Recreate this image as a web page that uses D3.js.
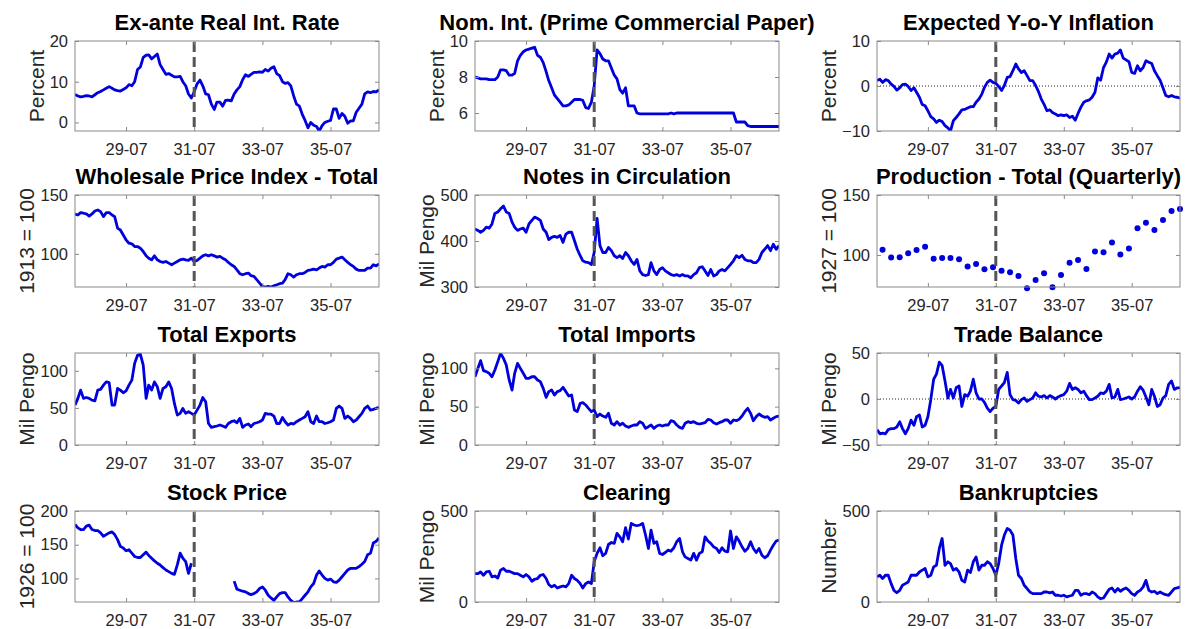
<!DOCTYPE html>
<html>
<head>
<meta charset="utf-8">
<script src="https://cdn.jsdelivr.net/npm/d3@7"></script>
<style>
  body { margin: 0; background: #fff; }
  svg text { font-family: "Liberation Sans", Arial, sans-serif; }
</style>
</head>
<body>
<svg id="chart" width="1188" height="629"></svg>
<script>
// monthly series, 1928-01 .. 1936-12
var realRate = [6.9,6.5,6.3,6.4,6.6,6.5,6.3,6.8,7.3,7.6, 8.0,8.4,8.8,8.4,8.0,7.8,7.7,8.1,8.5,9.3,
  9.0,10.0,13.0,13.6,16.0,16.5,16.6,15.6,16.2,16.8, 14.2,13.0,11.8,12.0,11.6,11.2,11.2,11.3,10.0,9.0,
  7.0,6.0,7.5,9.5,10.4,9.0,7.0,6.8,4.5,3.2, 5.0,5.0,4.0,5.4,5.5,5.3,7.0,8.0,8.8,10.5,
  11.7,11.3,11.8,12.3,12.3,12.4,12.3,13.0,12.6,13.3, 13.7,12.0,11.5,10.0,9.6,9.8,9.0,6.5,4.5,4.0,
  2.0,0.5,-1.3,0.0,-0.7,-1.0,-2.1,-0.8,0.0,0.3, 0.5,3.3,3.3,1.0,2.2,1.5,-0.2,0.4,0.4,2.5,
  3.5,4.5,7.0,7.5,7.3,7.6,7.5,8.0];
var nomRate = [8.0,7.95,7.9,7.9,7.9,7.85,7.85,7.85,8.0,8.4, 8.4,8.35,8.1,8.1,8.2,8.9,9.2,9.4,9.5,9.55,
  9.6,9.65,9.2,9.1,8.8,8.3,7.8,7.4,7.0,6.8, 6.6,6.4,6.4,6.45,6.6,6.75,6.75,6.75,6.7,6.3,
  6.25,6.6,7.5,9.5,9.3,9.0,8.9,8.9,8.5,8.1, 7.9,7.3,7.1,7.4,6.4,6.4,6.4,6.0,5.95,5.95,
  5.95,5.95,5.95,5.95,5.95,5.95,5.95,5.95,5.95,6.0, 5.95,6.0,6.0,6.0,6.0,6.0,6.0,6.0,6.0,6.0,
  6.0,6.0,6.0,6.0,6.0,6.0,6.0,6.0,6.0,6.0, 6.0,6.0,5.5,5.5,5.5,5.5,5.3,5.25,5.25,5.25,
  5.25,5.25,5.25,5.25,5.25,5.25,5.25,5.25];
var expInfl = [1.2,1.5,0.8,1.4,1.2,0.4,-0.1,-0.9,-0.4,0.3, 0.4,-0.1,-1.0,-0.4,-1.4,-2.5,-4.1,-4.4,-5.5,-6.8,
  -7.3,-8.1,-7.6,-7.9,-8.8,-9.3,-10.0,-7.7,-7.0,-6.2, -5.3,-5.2,-4.9,-4.6,-4.6,-3.6,-2.9,-1.8,-0.3,0.8,
  1.3,0.8,0.6,-0.1,-1.0,0.1,1.9,2.1,3.4,4.9, 3.8,3.0,3.4,2.3,1.2,1.2,0.1,-1.2,-2.9,-4.1,
  -5.5,-5.3,-5.9,-6.2,-6.6,-6.4,-6.6,-6.4,-7.0,-6.7, -7.6,-6.1,-4.7,-3.6,-3.3,-3.1,-2.5,-1.4,1.8,1.3,
  4.1,5.3,7.1,6.2,7.1,7.3,8.0,6.2,5.8,5.4, 3.0,2.8,4.5,3.4,4.1,5.6,5.3,5.0,3.4,2.3,
  1.3,-0.4,-2.1,-2.4,-2.1,-2.4,-2.5,-2.7];
var wpi = [133.9,133,135,134.5,133.9,132,133.9,136.4,137.3,135.9, 131.6,135,135,133,131.6,121.8,120.3,116,111.9,109,
  108.5,106.2,106.2,104.8,102,98.3,96.3,94.9,98.3,94.9, 93.5,92.7,93.5,92.1,90.7,92.1,93.5,94.9,95.5,94.9,
  94.4,96.3,93.5,94.4,96.3,98.3,99.2,98.3,99.2,98.3, 97.2,97.8,96.3,94.9,92.7,90.7,89.3,86.4,83.1,82.2,
  83.1,83.6,81.4,80.8,78,75.1,72.3,71.8,72.3,71.8, 72.9,73.7,74.6,75.1,78,83.1,82.2,80.2,82.2,83.1,
  83.1,84.2,85.9,86.4,87,86.4,87.9,89.3,88.7,90.7, 90.7,92.7,95.5,96.3,97.2,94.9,92.7,90.7,89.3,87,
  85.9,85.9,85.9,87.9,87.9,90.7,89.8,91.5];
var notes = [426,423,419,423,430,428,437,460,463,470, 476,463,460,441,430,423,426,428,419,437,
  445,452,449,445,426,419,403,408,410,408, 412,397,415,419,419,401,382,368,357,354,
  353,349,375,449,390,375,375,386,379,368, 364,368,362,375,368,357,349,360,335,327,
  325,327,353,335,327,338,342,335,331,327, 325,327,324,327,324,324,320,327,331,342,
  344,335,325,338,324,327,335,338,335,342, 349,357,368,364,369,360,357,357,353,353,
  360,375,382,390,379,393,382,390];
var exports = [53.8,62.8,74,62.8,64,62.8,60.5,59.6,74,75, 80.7,85,84,53.8,53.8,76.2,74,70.4,73,80.7,
  87.4,110,121,122.4,107.6,62.8,80.7,74,85,78.5, 62.8,76.2,78.5,85,76.2,56,40.4,42.6,49.3,42.6,
  44.8,42.6,40.4,47,53.8,64,58.3,29,23.8,24.7, 25.6,27,25.6,23.8,29,31.4,32.7,30,35.9,23.8,
  27,28.3,24.7,29,30,31.4,33.6,42.6,41.7,41.7, 39,29,29,37.2,31.4,27,29,28.3,31.4,33.6,
  35.9,38.1,44.8,31.4,29,39,31.4,31.4,29,30, 31.4,33.6,49.3,52.5,49.3,35.9,39,36,31.4,33.6,
  38.1,42.6,49.3,52.5,47,48,49.3,50.7];
var imports = [89,100,110,97,95.7,93.5,89,97.8,108.7,119.6, 113,104.3,84.8,71.7,93.5,106.5,100,93.5,87,87,
  89,89,84.8,82.6,73.9,62.2,69.6,71.7,65.2,69.6, 70.9,75.2,69.6,63.9,65.2,45.7,43.5,54.3,55.2,52.2,
  47.8,43.5,45.7,37,40.4,37.8,36.1,41.3,28.3,26.1, 30.4,26.1,28.3,24.8,23,24.8,26.1,26.1,30.4,28.3,
  21.7,23.9,26.1,21.7,24.8,26.1,24.8,26.1,26.1,31.7, 30.4,26.1,23,21.7,28.3,30.4,29.1,30.4,28.3,27.4,
  28.3,29.1,33.5,32.6,29.1,27.4,29.1,30.4,32.6,32.6, 28.3,32.6,31.7,33.5,37.8,43.5,47.8,41.3,31.7,37,
  40.4,37.8,36.1,37,32.6,34.8,37,37.8];
var tradeBal = [-33.3,-37.8,-37,-37.8,-33.3,-32.2,-32.2,-30.4,-24.8,-32.2, -37.8,-32.2,-23,-28.5,-19.3,-17.4,-30.4,-28.5,-19.3,-0.7,
  21.5,27,40,36.3,19.6,1.1,10.4,1.1,12.2,14.1, -8.1,4.8,3,8.5,21.5,6.7,0,0,-3.7,-10,
  -13.7,-10,-8.1,10.4,14.1,17.8,28.9,4.8,-0.7,-1.5, -4.4,-0.7,1.1,-2.6,-0.7,1.1,6.7,3,2.2,3.7,
  1.1,3.7,2.2,0,2.2,3.7,4.8,8.5,17,10.4, 12.2,10.4,6.7,8.5,3.7,-0.7,-0.7,1.1,3,6.7,
  5.9,8.5,15.9,1.1,2.2,10.4,-0.7,0,1.1,2.2, 0,2.2,8.5,13.3,9.6,2.2,-6.3,10.4,3,-8.1,
  -6.3,1.1,3.7,15.9,19.6,10.4,12.2,12.2];
var stockPrice = [180,175,172.5,172.5,177.5,179,172.5,171,171,167.5, 162.5,165,167.5,169,165,157.5,147.5,145,141,142.5,
  137.5,132.5,131,131,135,139,134,130,126,122.5, 120,116,112.5,110,107.5,106,120,137.5,130,125,
  107.5,122.5,null,null,null,null,null,null,null,null, null,null,null,null,null,null,96,84,82.5,81,
  80,77.5,76,77.5,80,85,87.5,82.5,75,71, 67.5,72.5,77.5,79,79,72.5,67.5,64,65,65,
  70,75,80,87.5,92.5,105,111,105,100,97.5, 99,95,94,97.5,102.5,107.5,112.5,115,115,115,
  117.5,121,125,135,137.5,152.5,155,160];
var clearing = [156,156,165,147,165,169,138,143,132,175, 184,169,169,162,156,156,147,138,151,138,
  114,125,129,147,151,129,96,83,92,77, 83,88,83,101,147,129,119,101,77,101,
  110,101,221,267,298,254,267,316,327,322, 377,358,331,408,346,432,423,419,423,432,
  368,294,395,322,331,267,261,272,285,279, 298,331,349,276,248,239,230,267,230,267,
  276,358,335,322,303,294,272,298,279,276, 390,294,358,335,303,279,294,331,294,272,
  294,257,243,254,285,312,335,340];
var bankrupt = [138,147,129,147,147,101,64,51,64,92, 101,110,147,147,147,165,175,184,138,147,
  193,202,294,349,202,221,211,175,184,165, 119,110,175,162,221,248,175,202,202,221,
  211,184,147,211,312,368,404,395,368,239, 147,129,92,74,55,46,46,46,46,55,
  55,50,55,37,37,33,37,28,33,37, 64,64,37,46,46,40,55,46,28,18,
  22,46,70,77,55,74,59,70,77,64, 46,37,55,64,83,119,64,55,59,46,
  55,46,40,37,55,74,77,83];
// quarterly, 1928-Q1 .. 1936-Q4
var production = [104.4,97.8,98.1,101.4,104.2,106.9,96.9,97.5,97.5,96.4,90.3,92.5,
  88.1,89.7,86.9,85.6,82.5,72.2,79.2,84.7,73.1,83.3,93.6,95.8,
  88.3,102.8,102.2,110.3,100.3,105.3,122.2,126.9,120.8,129.2,136.7,138.3];

var xTickLabels = ["29-07", "31-07", "33-07", "35-07"];
var breakLabel = "31-07";

// two-digit years here are 19xx
var parseTick = s => d3.timeParse("%Y-%m")("19" + s);
var xTicks = xTickLabels.map(parseTick);
var breakDate = parseTick(breakLabel);
var xDomain = [new Date(1928, 0, 1), new Date(1936, 11, 1)];
var months = realRate.map((v, i) => new Date(1928, i, 1));
var quarters = production.map((v, i) => new Date(1928, 2 + 3 * i, 1));

var panels = [
    {title: "Ex-ante Real Int. Rate", ylabel: "Percent", values: realRate, domain: [-2.1, 20], ticks: [0, 10, 20]},
    {title: "Nom. Int. (Prime Commercial Paper)", ylabel: "Percent", values: nomRate, domain: [5, 10], ticks: [6, 8, 10]},
    {title: "Expected Y-o-Y Inflation", ylabel: "Percent", values: expInfl, domain: [-10, 10], ticks: [-10, 0, 10], zero: true},
    {title: "Wholesale Price Index - Total", ylabel: "1913 = 100", values: wpi, domain: [71.8, 150], ticks: [100, 150]},
    {title: "Notes in Circulation", ylabel: "Mil Pengo", values: notes, domain: [300, 500], ticks: [300, 400, 500]},
    {title: "Production - Total (Quarterly)", ylabel: "1927 = 100", values: production, domain: [73.3, 150], ticks: [100, 150], dots: true},
    {title: "Total Exports", ylabel: "Mil Pengo", values: exports, domain: [0, 124], ticks: [0, 50, 100]},
    {title: "Total Imports", ylabel: "Mil Pengo", values: imports, domain: [0, 120], ticks: [0, 50, 100]},
    {title: "Trade Balance", ylabel: "Mil Pengo", values: tradeBal, domain: [-50, 50], ticks: [-50, 0, 50], zero: true},
    {title: "Stock Price", ylabel: "1926 = 100", values: stockPrice, domain: [65, 200], ticks: [100, 150, 200]},
    {title: "Clearing", ylabel: "Mil Pengo", values: clearing, domain: [0, 500], ticks: [0, 500]},
    {title: "Bankruptcies", ylabel: "Number", values: bankrupt, domain: [0, 500], ticks: [0, 500]}
];

// plot boxes
var cols = [[75, 379], [475, 779], [877, 1180]];
var rows = [[41, 131], [195, 287], [353, 445], [511, 602]];

var blue = "#0000dd";
var axisColor = "#262626";
var boxColor = "#8a8a8a";

var svg = d3.select("#chart");

panels.forEach(function(p, k) {
    var c = cols[k % 3], r = rows[Math.floor(k / 3)];

    var x = d3.scaleTime().domain(xDomain).range(c);
    var y = d3.scaleLinear().domain(p.domain).range([r[1], r[0]]);

    var g = svg.append("g");

    var clipId = "clip" + k;
    g.append("clipPath").attr("id", clipId)
        .append("rect")
            .attr("x", c[0]).attr("y", r[0])
            .attr("width", c[1] - c[0]).attr("height", r[1] - r[0]);

    if(p.zero) {
        g.append("line")
            .attr("x1", c[0]).attr("x2", c[1])
            .attr("y1", y(0)).attr("y2", y(0))
            .attr("stroke", "#222")
            .attr("stroke-width", 1)
            .attr("stroke-dasharray", "1,2");
    }

    if(p.dots) {
        g.append("g")
            .selectAll("circle")
            .data(p.values)
            .enter()
            .append("circle")
                .attr("cx", (d, i) => x(quarters[i]))
                .attr("cy", d => y(d))
                .attr("r", 3)
                .attr("fill", blue);
    }
    else {
        var line = d3.line()
            .defined(d => d != null)
            .x((d, i) => x(months[i]))
            .y(d => y(d));

        g.append("path")
            .datum(p.values)
            .attr("clip-path", "url(#" + clipId + ")")
            .attr("fill", "none")
            .attr("stroke", blue)
            .attr("stroke-width", 2.8)
            .attr("stroke-linejoin", "round")
            .attr("d", line);
    }

    // 31-07 marker
    g.append("line")
        .attr("x1", x(breakDate)).attr("x2", x(breakDate))
        .attr("y1", r[0] + 1).attr("y2", r[1])
        .attr("stroke", "#555")
        .attr("stroke-width", 3)
        .attr("stroke-dasharray", "10,5");

    // axes, ticks inward on all sides
    g.append("g")
        .attr("transform", `translate(0,${r[1]})`)
        .call(d3.axisBottom(x).tickValues(xTicks).tickFormat(d3.timeFormat("%y-%m"))
            .tickSize(-4).tickPadding(12));
    g.append("g")
        .attr("transform", `translate(0,${r[0]})`)
        .call(d3.axisTop(x).tickValues(xTicks).tickFormat("").tickSize(-4));
    var left = g.append("g")
        .attr("transform", `translate(${c[0]},0)`)
        .call(d3.axisLeft(y).tickValues(p.ticks).tickFormat(d3.format("d"))
            .tickSize(-4).tickPadding(7));
    g.append("g")
        .attr("transform", `translate(${c[1]},0)`)
        .call(d3.axisRight(y).tickValues(p.ticks).tickFormat("").tickSize(-4));

    g.selectAll(".domain").remove();
    g.selectAll(".tick line").attr("stroke", boxColor);
    g.selectAll(".tick text")
        .attr("fill", axisColor)
        .style("font-size", "16.5px");

    g.append("rect")
        .attr("x", c[0]).attr("y", r[0])
        .attr("width", c[1] - c[0]).attr("height", r[1] - r[0])
        .attr("fill", "none")
        .attr("stroke", boxColor)
        .attr("stroke-width", 1);

    // title
    g.append("text")
        .attr("x", (c[0] + c[1]) / 2)
        .attr("y", r[0] - 11)
        .attr("text-anchor", "middle")
        .attr("fill", "#000")
        .style("font-size", "22px")
        .style("font-weight", "bold")
        .text(p.title);

    // y label, placed left of the widest tick label
    var tickW = d3.max(left.selectAll("text").nodes(), n => n.getComputedTextLength());
    var lx = c[0] - 7 - tickW - 6;
    g.append("text")
        .attr("transform", `translate(${lx},${(r[0] + r[1]) / 2}) rotate(-90)`)
        .attr("text-anchor", "middle")
        .attr("fill", axisColor)
        .style("font-size", "21px")
        .text(p.ylabel);
});
</script>
</body>
</html>
